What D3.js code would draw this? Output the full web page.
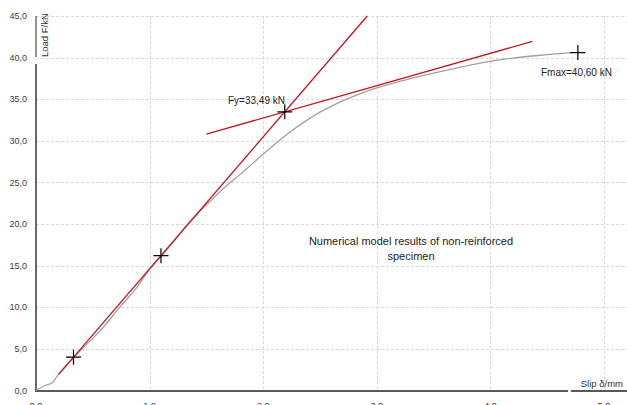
<!DOCTYPE html>
<html>
<head>
<meta charset="utf-8">
<script src="https://cdn.jsdelivr.net/npm/d3@7"></script>
<style>
  html, body { margin: 0; padding: 0; background: #fff; }
  svg { display: block; font-family: "Liberation Sans", Arial, sans-serif; }
</style>
</head>
<body>
<svg id="chart" width="627" height="405"></svg>
<script>
// Load–slip response of the numerical model (slip in mm, load in kN)
const slip = [0, 0.08, 0.145, 0.19, 0.33, 0.45, 0.56, 0.74, 0.9, 1.0, 1.1, 1.2, 1.33, 1.53, 1.66, 1.8, 1.9, 2.0, 2.12, 2.24, 2.36, 2.48, 2.62, 2.75, 2.88, 3.0, 3.2, 3.47, 3.7, 3.91, 4.2, 4.5, 4.72];
const load = [0, 0.6, 0.95, 1.8, 3.95, 5.6, 7.1, 10.05, 12.6, 14.6, 16.1, 17.7, 19.9, 22.7, 24.4, 26.0, 27.2, 28.4, 29.8, 31.1, 32.25, 33.3, 34.3, 35.1, 35.8, 36.35, 37.15, 38.05, 38.75, 39.35, 39.95, 40.35, 40.6];

// Construction lines: initial stiffness line and post-yield tangent
const stiffnessLine = [[0.2, 1.93], [2.916, 45.0]];
const tangentLine = [[1.5, 30.81], [4.37, 41.95]];

// Characteristic points marked with crosses
const markSlip = [0.33, 1.1, 2.19, 4.77];
const markLoad = [4.0, 16.2, 33.49, 40.60];

// Axis ticks
const xTicks = [0, 1, 2, 3, 4, 5];
const yTicks = [0, 5, 10, 15, 20, 25, 30, 35, 40, 45];

const fmt = v => v.toFixed(1).replace(".", ",");
const fmt2 = v => v.toFixed(2).replace(".", ",");

const svg = d3.select("#chart");
const x = d3.scaleLinear().domain([0, 5.2]).range([36, 626.7]);
const y = d3.scaleLinear().domain([0, 45]).range([390.5, 16]);

// Grid
const grid = svg.append("g").attr("stroke", "#d9d9d9").attr("stroke-width", 1).attr("stroke-dasharray", "3,2");
grid.selectAll("line.h").data(yTicks.slice(1)).join("line")
  .attr("x1", x(0)).attr("x2", 627)
  .attr("y1", d => Math.round(y(d)) + 0.5).attr("y2", d => Math.round(y(d)) + 0.5);
grid.selectAll("line.v").data(xTicks.slice(1)).join("line")
  .attr("x1", d => Math.round(x(d)) + 0.5).attr("x2", d => Math.round(x(d)) + 0.5)
  .attr("y1", y(45)).attr("y2", y(0));

// Tick labels
svg.append("g").selectAll("text").data(yTicks).join("text")
  .attr("x", 27).attr("y", d => y(d)).attr("dy", "0.35em")
  .attr("text-anchor", "end").attr("font-size", 9).attr("fill", "#404040")
  .text(fmt);
svg.append("g").selectAll("text").data(xTicks).join("text")
  .attr("x", d => x(d)).attr("y", 409)
  .attr("text-anchor", "middle").attr("font-size", 9).attr("fill", "#404040")
  .text(fmt);

// Axes lines
const axisColor = "#595959";
svg.append("line").attr("x1", 36).attr("x2", 36).attr("y1", y(45)).attr("y2", 57)
  .attr("stroke", axisColor).attr("stroke-width", 1.3);
svg.append("line").attr("x1", 36).attr("x2", 36).attr("y1", 64).attr("y2", 391)
  .attr("stroke", axisColor).attr("stroke-width", 1.8);
svg.append("line").attr("x1", 35).attr("x2", 568).attr("y1", 391).attr("y2", 391)
  .attr("stroke", axisColor).attr("stroke-width", 1.8);
svg.append("line").attr("x1", 571).attr("x2", 627).attr("y1", 391).attr("y2", 391)
  .attr("stroke", axisColor).attr("stroke-width", 1.8);

// Axis titles
svg.append("text").attr("transform", "translate(47.5,57) rotate(-90)")
  .attr("font-size", 9.5).attr("fill", "#333").text("Load F/kN");
svg.append("text").attr("x", 623).attr("y", 387).attr("text-anchor", "end")
  .attr("font-size", 9.5).attr("fill", "#333").text("Slip δ/mm");

// Model curve
const curve = d3.line().x(d => x(d[0])).y(d => y(d[1])).curve(d3.curveMonotoneX);
svg.append("path").datum(slip.map((s, i) => [s, load[i]]))
  .attr("d", curve).attr("fill", "none").attr("stroke", "#a0a0a0").attr("stroke-width", 1.3);

// Construction lines
const straight = d3.line().x(d => x(d[0])).y(d => y(d[1]));
[stiffnessLine, tangentLine].forEach(l => {
  svg.append("path").datum(l).attr("d", straight)
    .attr("fill", "none").attr("stroke", "#c4161c").attr("stroke-width", 1.3);
});

// Cross markers
const arm = 7.5;
svg.append("g").selectAll("path").data(markSlip.map((s, i) => [s, markLoad[i]])).join("path")
  .attr("d", d => {
    const cx = x(d[0]), cy = y(d[1]);
    return `M${cx - arm},${cy}H${cx + arm}M${cx},${cy - arm}V${cy + arm}`;
  })
  .attr("stroke", "#000").attr("stroke-width", 1.2).attr("fill", "none");

// Annotations
svg.append("text").attr("x", 285).attr("y", 104).attr("text-anchor", "end")
  .attr("font-size", 10).attr("fill", "#222").text(`Fy=${fmt2(markLoad[2])} kN`);
svg.append("text").attr("x", 541).attr("y", 76)
  .attr("font-size", 10).attr("fill", "#222").text(`Fmax=${fmt2(markLoad[3])} kN`);
svg.append("text").attr("x", 411).attr("y", 245).attr("text-anchor", "middle")
  .attr("font-size", 11).attr("fill", "#222").text("Numerical model results of non-reinforced");
svg.append("text").attr("x", 411).attr("y", 260).attr("text-anchor", "middle")
  .attr("font-size", 11).attr("fill", "#222").text("specimen");
</script>
</body>
</html>
